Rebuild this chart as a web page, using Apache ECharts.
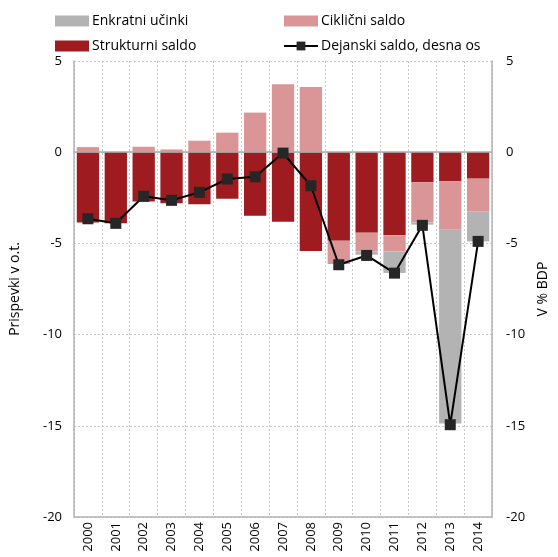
<!DOCTYPE html>
<html>
<head>
<meta charset="utf-8">
<script src="https://cdn.jsdelivr.net/npm/echarts@6/dist/echarts.min.js"></script>
<style>
  html, body { margin: 0; padding: 0; background: #fff; }
  #chart { width: 558px; height: 557px; }
</style>
</head>
<body>
<div id="chart"></div>
<script>
const years = ["2000", "2001", "2002", "2003", "2004", "2005", "2006", "2007",
  "2008", "2009", "2010", "2011", "2012", "2013", "2014"];
const strukturni = [-3.85, -3.9, -2.7, -2.8, -2.85, -2.55, -3.48, -3.81, -5.42, -4.85, -4.41, -4.56, -1.64, -1.6, -1.45];
const ciklicni = [0.28, 0, 0.3, 0.15, 0.63, 1.07, 2.17, 3.72, 3.57, -1.28, -1.03, -0.88, -2.21, -2.65, -1.81];
const enkratni = [0, 0, 0, 0, 0, 0, 0, 0, 0, 0, -0.18, -1.18, -0.12, -10.63, -1.63];
const dejanski = [-3.65, -3.9, -2.42, -2.64, -2.2, -1.47, -1.35, -0.05, -1.84, -6.17, -5.66, -6.63, -4.01, -14.94, -4.89];

const font = "Open Sans";
const chart = echarts.init(document.getElementById("chart"));

const legendBase = {
  orient: "vertical",
  top: 9,
  itemWidth: 34,
  itemHeight: 11,
  itemGap: 11,
  textStyle: { fontFamily: font, fontSize: 14, color: "#000", padding: [0, 0, 0, -2] },
};

const option = {
  animation: false,
  textStyle: { fontFamily: font },
  legend: [
    Object.assign({}, legendBase, {
      left: 50,
      data: [{ name: "Enkratni učinki", icon: "rect" }, { name: "Strukturni saldo", icon: "rect" }],
    }),
    Object.assign({}, legendBase, {
      left: 278,
      data: [{ name: "Ciklični saldo", icon: "rect" }, { name: "Dejanski saldo, desna os" }],
    }),
  ],
  grid: { left: 73, right: 47, top: 61, bottom: 40 },
  xAxis: {
    type: "category",
    data: years,
    boundaryGap: true,
    axisLine: { onZero: false, lineStyle: { color: "#b3b3b3", width: 1.5 } },
    axisTick: { show: false },
    axisLabel: { rotate: 90, fontFamily: font, fontSize: 13, color: "#000", margin: 5 },
    splitLine: { show: true, interval: 0, lineStyle: { color: "#c8c8c8", type: [2, 2] } },
  },
  yAxis: [
    {
      type: "value",
      min: -20,
      max: 5,
      interval: 5,
      name: "Prispevki v o.t.",
      nameLocation: "middle",
      nameGap: 52,
      nameTextStyle: { fontFamily: font, fontSize: 14, color: "#000" },
      axisLine: { show: true, lineStyle: { color: "#b3b3b3", width: 1.5 } },
      axisTick: { show: false },
      axisLabel: { fontFamily: font, fontSize: 13, color: "#000", margin: 12 },
      splitLine: { show: true, lineStyle: { color: "#c8c8c8", type: [2, 2] } },
    },
    {
      type: "value",
      min: -20,
      max: 5,
      interval: 5,
      position: "right",
      name: "V % BDP",
      nameLocation: "middle",
      nameGap: 36,
      nameTextStyle: { fontFamily: font, fontSize: 14, color: "#000" },
      axisLine: { show: true, lineStyle: { color: "#b3b3b3", width: 1.5 } },
      axisTick: { show: false },
      axisLabel: { fontFamily: font, fontSize: 13, color: "#000", margin: 14 },
      splitLine: { show: false },
    },
  ],
  series: [
    {
      name: "Strukturni saldo",
      type: "bar",
      stack: "saldo",
      barCategoryGap: "20%",
      itemStyle: { color: "#9e1c20" },
      data: strukturni,
      markLine: {
        silent: true,
        symbol: "none",
        label: { show: false },
        lineStyle: { color: "#aaaaaa", type: "solid", width: 1.5 },
        data: [{ yAxis: 0 }],
      },
    },
    {
      name: "Ciklični saldo",
      type: "bar",
      stack: "saldo",
      itemStyle: { color: "#da9696" },
      data: ciklicni,
    },
    {
      name: "Enkratni učinki",
      type: "bar",
      stack: "saldo",
      itemStyle: { color: "#b3b3b3" },
      data: enkratni,
    },
    {
      name: "Dejanski saldo, desna os",
      type: "line",
      yAxisIndex: 1,
      symbol: "rect",
      symbolSize: 11,
      lineStyle: { color: "#000", width: 2 },
      itemStyle: { color: "#262626" },
      z: 5,
      data: dejanski,
    },
  ],
};
chart.setOption(option);
</script>
</body>
</html>
